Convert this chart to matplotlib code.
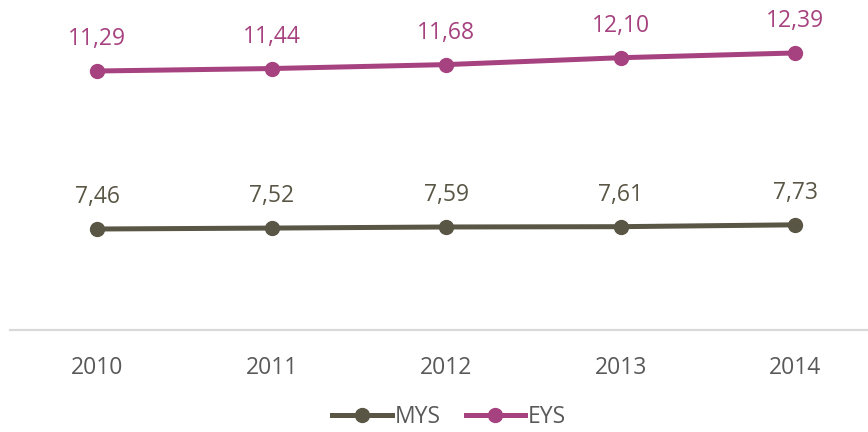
import matplotlib
matplotlib.use('Agg')
import matplotlib.pyplot as plt

# data
years = ['2010', '2011', '2012', '2013', '2014']
mys = [7.46, 7.52, 7.59, 7.61, 7.73]
eys = [11.29, 11.44, 11.68, 12.10, 12.39]

MYS_COLOR = '#5A5646'
EYS_COLOR = '#A6427F'
TEXT_GRAY = '#595959'

plt.rcParams['font.family'] = ['Open Sans', 'DejaVu Sans']


def fmt(v):
    return f'{v:.2f}'.replace('.', ',')


def main() -> None:
    fig = plt.figure(figsize=(8.68, 4.32), dpi=100)
    ax = fig.add_axes([10 / 868, 102 / 432, 858 / 868, 330 / 432])
    ax2 = ax.twinx()

    x = list(range(len(years)))
    l1, = ax.plot(x, mys, color=MYS_COLOR, lw=3.6, marker='o', ms=10, label='MYS')
    l2, = ax2.plot(x, eys, color=EYS_COLOR, lw=3.6, marker='o', ms=10, label='EYS')

    for xi, v in zip(x, mys):
        ax.annotate(fmt(v), (xi, v), xytext=(0, 23), textcoords='offset points',
                    ha='center', va='center', fontsize=16.5, color=MYS_COLOR)
    for xi, v in zip(x, eys):
        ax2.annotate(fmt(v), (xi, v), xytext=(0, 23), textcoords='offset points',
                     ha='center', va='center', fontsize=16.5, color=EYS_COLOR)

    ax.set_xlim(-0.5, 4.418)
    ax.set_ylim(7.46 - 101 / 15.5, 7.46 - 101 / 15.5 + 330 / 15.5)
    ax2.set_ylim(11.29 - 259 / 16.4, 11.29 - 259 / 16.4 + 330 / 16.4)

    ax.set_xticks(x)
    ax.set_xticklabels(years, fontsize=16.5, color=TEXT_GRAY)
    ax.tick_params(axis='x', length=0, pad=19)
    ax.set_yticks([])
    ax2.set_yticks([])
    for a in (ax, ax2):
        for s in ('top', 'left', 'right'):
            a.spines[s].set_visible(False)
        a.spines['bottom'].set_color('#D9D9D9')
        a.spines['bottom'].set_linewidth(1.5)

    fig.legend(handles=[l1, l2], loc='center',
               bbox_to_anchor=(0.5 + 15 / 868, 15 / 432),
               ncol=2, frameon=False, fontsize=16.5, labelcolor=TEXT_GRAY,
               handlelength=2.6, handletextpad=0.1, columnspacing=1.1)

    fig.savefig('out.png', dpi=100)


if __name__ == "__main__":
    main()
